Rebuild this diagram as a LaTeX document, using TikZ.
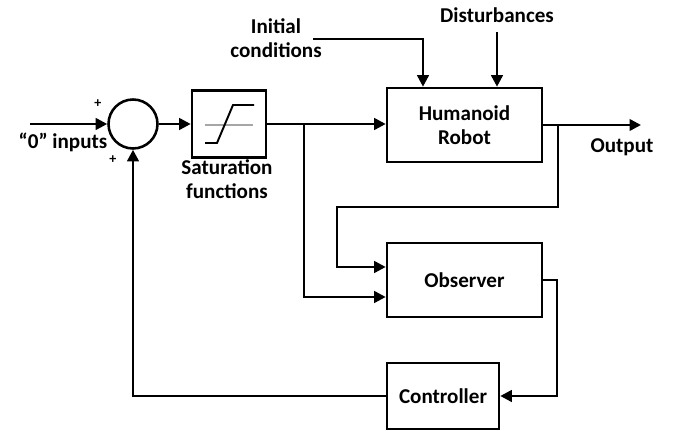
\documentclass[tikz,border=0pt]{standalone}
\usepackage{fontspec}
\setmainfont{Carlito}
\usetikzlibrary{arrows.meta,positioning,calc}
\tikzset{
  arr/.style={-{Triangle[length=2.3mm,width=2.3mm]}, line width=1.45pt},
  wire/.style={line width=1.45pt},
  blk/.style={draw, line width=1.45pt, align=center, inner sep=0pt},
  lab/.style={font=\fontsize{12}{14}\selectfont\bfseries, align=center},
  sgn/.style={font=\fontsize{8}{9}\selectfont\bfseries},
}
\begin{document}
\begin{tikzpicture}[x=0.2mm,y=-0.2mm]
\useasboundingbox (0,0) rectangle (680,431);

% ===================== blocks =====================
\node[blk, circle, minimum size=9.8mm] (sum) at (133,124) {};
\node[blk, minimum width=14.8mm, minimum height=13.4mm] (sat) at (229,124) {};
\node[blk, lab, minimum width=31mm, minimum height=14.8mm] (robot) at (464.5,125) {Humanoid\\Robot};
\node[blk, lab, minimum width=31mm, minimum height=14.8mm] (obs) at (464.5,280) {Observer};
\node[blk, lab, minimum width=22.4mm, minimum height=13.2mm] (ctrl) at (443,396) {Controller};

% saturation curve inside the box
\draw[gray!70, line width=0.6pt] ($(sat.center)+(-24,1)$) -- ++(48,0);
\draw[line width=1.1pt] ($(sat.center)+(-24,19)$) -- ++(12,0) -- ++(16,-38) -- ++(21,0);

% ===================== labels =====================
\node[lab] (sattxt) at (227,179) {Saturation\\functions};
\node[lab] (zin) at (63,142) {``0'' inputs};
\node[lab] (ictxt) at (276,38) {Initial\\conditions};
\node[lab] (dist) at (497,15) {Disturbances};
\node[lab] (outtxt) at (622,147) {Output};
\node[sgn] (p1) at (98,104) {+};
\node[sgn] (p2) at (113,160) {+};

% ===================== forward path =====================
\coordinate (in) at (30,124);
\coordinate (br1) at (304,124);
\coordinate (br2) at (558,125);
\coordinate (out) at (641,125);
\draw[arr] (in) -- (sum.west);
\draw[arr] (sum.east) -- (sat.west);
\draw[arr] (sat.east) -- (robot.west |- sat.east);
\draw[arr] (robot.east) -- (out);

% external inputs to the robot
\coordinate (ic) at (313,39);
\coordinate (dst) at (497,32);
\draw[arr] (ic) -| (robot.north -| 423,0);
\draw[arr] (dst) -- (robot.north -| dst);

% ===================== observer inputs =====================
\draw[arr] (br2) |- (337,207) |- (obs.west |- 0,267);
\draw[arr] (br1) |- (obs.west |- 0,297);

% ===================== feedback =====================
\draw[arr] (obs.east) -| (557,396) -- (ctrl.east);
\draw[arr] (ctrl.west) -| (sum.south);

\end{tikzpicture}
\end{document}
